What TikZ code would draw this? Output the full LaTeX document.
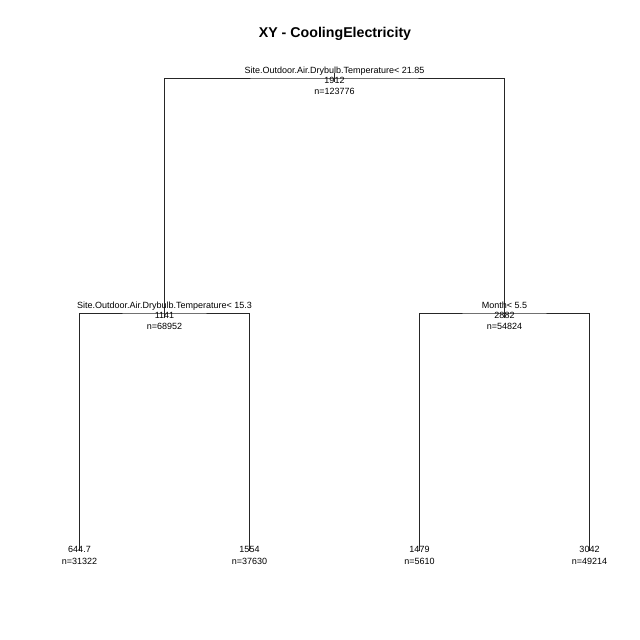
\documentclass[tikz,border=0pt]{standalone}
\usepackage{fontspec}
\setmainfont{Liberation Sans}
\begin{document}
\begin{tikzpicture}[x=1pt,y=-1pt,
  branch/.style={draw=black!85,line width=0.7pt},
  splitlab/.style={anchor=base,inner sep=0pt,font=\fontsize{9}{9}\selectfont},
  numlab/.style={anchor=base,inner sep=0pt,font=\fontsize{9}{9}\selectfont},
  titlelab/.style={anchor=base,inner sep=0pt,font=\fontsize{14.2}{14.2}\selectfont\bfseries}]
\fill[white] (0,0) rectangle (640,640);
\useasboundingbox (0,0) rectangle (640,640);
% title
\node[titlelab] (title) at (335,37.5) {XY - CoolingElectricity};
% node positions
\coordinate (nA) at (334.5,78);
\coordinate (nAtop) at (334.5,73);
\coordinate (nAbot) at (334.5,82);
\coordinate (nB) at (164.5,313);
\coordinate (nC) at (504.5,313);
\coordinate (nBend) at (164.5,318);
\coordinate (nCend) at (504.5,318);
\coordinate (l1) at (79.5,550.5);
\coordinate (l2) at (249.5,550.5);
\coordinate (l3) at (419.5,550.5);
\coordinate (l4) at (589.5,550.5);
% branches
\draw[branch] (nAtop) -- (nAbot);
\draw[branch] (nBend) |- (nA) -| (nCend);
\draw[branch] (l1) |- (nB) -| (l2);
\draw[branch] (l3) |- (nC) -| (l4);
% root labels
\node[splitlab] (sA) at (334.5,73.3) {Site.Outdoor.Air.Drybulb.Temperature< 21.85};
\node[numlab] (vA) at (334.5,83.5) {1912};
\node[numlab] (kA) at (334.5,94.5) {n=123776};
% left child
\node[splitlab] (sB) at (164.5,308.3) {Site.Outdoor.Air.Drybulb.Temperature< 15.3};
\node[numlab] (vB) at (164.5,318.5) {1141};
\node[numlab] (kB) at (164.5,329.5) {n=68952};
% right child
\node[splitlab] (sC) at (504.5,308.3) {Month< 5.5};
\node[numlab] (vC) at (504.5,318.5) {2882};
\node[numlab] (kC) at (504.5,329.5) {n=54824};
% leaves
\node[numlab] (v1) at (79.5,552.5) {644.7};
\node[numlab] (k1) at (79.5,564) {n=31322};
\node[numlab] (v2) at (249.5,552.5) {1554};
\node[numlab] (k2) at (249.5,564) {n=37630};
\node[numlab] (v3) at (419.5,552.5) {1479};
\node[numlab] (k3) at (419.5,564) {n=5610};
\node[numlab] (v4) at (589.5,552.5) {3042};
\node[numlab] (k4) at (589.5,564) {n=49214};
\end{tikzpicture}
\end{document}
